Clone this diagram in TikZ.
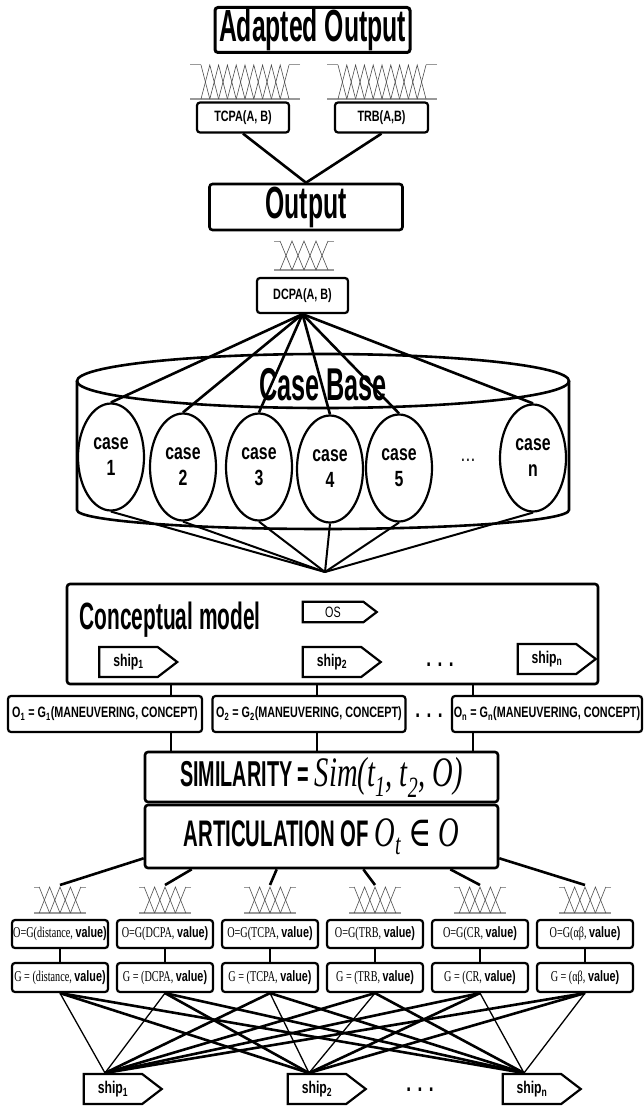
\documentclass[tikz,border=0pt]{standalone}
\usepackage{fontspec}
\setmainfont{Liberation Sans}
\newfontfamily\narrowsans[FakeStretch=0.55]{Liberation Sans}
\newfontfamily\labelsans[FakeStretch=0.72]{Liberation Sans}
\newfontfamily\narrowserif[FakeStretch=0.68]{Liberation Serif}
\newfontfamily\elemfont[FakeStretch=0.75]{DejaVu Serif}
\usetikzlibrary{shapes.geometric, shapes.symbols}

\colorlet{FuzzyLine}{black!70}
\colorlet{FuzzyBase}{black!40}

\tikzset{
  Box/.style = {draw, line width=2.6pt, rounded corners=3pt, inner sep=0pt, align=center},
  SmallBox/.style = {Box, line width=2.2pt, font=\labelsans\bfseries\fontsize{15}{17}\selectfont},
  Title/.style = {font=\narrowsans\bfseries\fontsize{45}{50}\selectfont},
  Case/.style = {draw, ellipse, line width=2.2pt, minimum width=66pt, minimum height=107pt,
    inner sep=0pt, align=center, font=\labelsans\bfseries\fontsize{22}{26}\selectfont},
  Ship/.style = {draw, signal, signal to=east, signal pointer angle=75, line width=2.2pt,
    minimum width=78pt, inner xsep=4pt, inner ysep=7pt, font=\labelsans\bfseries\fontsize{17}{19}\selectfont},
  Dots/.style = {font=\labelsans\bfseries\fontsize{24}{26}\selectfont},
  Link/.style = {line width=2.6pt},
  ThinLink/.style = {line width=1.3pt},
}

\newcommand\fuzzyset[5]{%
  \begin{scope}[shift={(#1,0)}]
    \pgfmathsetmacro\fzs{0.2*#4}
    \pgfmathsetmacro\fzd{2*(#4-\fzs)/#5}
    \pgfmathtruncatemacro\fzm{#5-1}
    \draw[FuzzyBase, line width=1.6pt] (-#4,#3) -- (#4,#3);
    \draw[FuzzyBase, line width=1pt] (-#4,#2) -- (-#4+\fzs,#2);
    \draw[FuzzyBase, line width=1pt] (#4,#2) -- (#4-\fzs,#2);
    \draw[FuzzyLine, line width=0.6pt] (-#4+\fzs,#2) -- (-#4+\fzs+\fzd,#3);
    \draw[FuzzyLine, line width=0.6pt] (#4-\fzs,#2) -- (#4-\fzs-\fzd,#3);
    \foreach \k in {1,...,\fzm}
      \draw[FuzzyLine, line width=0.6pt] (-#4+\fzs+\k*\fzd-\fzd,#3)
        -- (-#4+\fzs+\k*\fzd,#2) -- (-#4+\fzs+\k*\fzd+\fzd,#3);
  \end{scope}}

\begin{document}
\begin{tikzpicture}[x=1pt, y=-1pt]

\useasboundingbox (0,0) rectangle (643,1110);

\node[Box, Title, line width=3pt, minimum width=195pt, minimum height=45pt] (adapted) at (312.5,30) {Adapted Output};
\fuzzyset{245}{65}{99}{55}{10}
\fuzzyset{382}{65}{99}{55}{10}
\node[SmallBox, minimum width=92pt, minimum height=30pt] (tcpa) at (243,117.5) {TCPA(A, B)};
\node[SmallBox, minimum width=93pt, minimum height=30pt] (trb) at (381.5,117.5) {TRB(A,B)};

\node[Box, Title, minimum width=193pt, minimum height=46pt] (output) at (306,207) {Output};
\draw[Link] (tcpa.south) -- (output.north);
\draw[Link] (trb.south) -- (output.north);

\fuzzyset{304}{241}{270}{30}{4}
\node[SmallBox, minimum width=91pt, minimum height=35pt] (dcpa) at (302.5,295.5) {DCPA(A, B)};

\draw[Link] (323,381) ellipse [x radius=246pt, y radius=27pt];
\draw[Link] (77,381) -- (77,510) arc [start angle=180, end angle=360, x radius=246pt, y radius=19pt] -- (569,381);
\node[Title, font=\narrowsans\bfseries\fontsize{46}{50}\selectfont] (casebase) at (323,385) {Case Base};

\node[Case] (case1) at (111,457) {case\\1};
\node[Case] (case2) at (183,467) {case\\2};
\node[Case] (case3) at (259,467) {case\\3};
\node[Case] (case4) at (330,469) {case\\4};
\node[Case] (case5) at (399,468) {case\\5};
\node[font=\labelsans\fontsize{22}{26}\selectfont] (casedots) at (468,460) {\dots};
\node[Case] (casen) at (533,458) {case\\n};
\coordinate (merge) at (325,572);
\foreach \c in {1,2,3,4,5,n} {
  \draw[Link] (dcpa.south) -- (case\c.north);
  \draw[Link, line width=2pt] (case\c.south) -- (merge);
}

\node[Box, minimum width=531pt, minimum height=100pt] (concept) at (332.5,634) {};
\node[font=\narrowsans\bfseries\fontsize{38}{42}\selectfont] (concepttext) at (170,620) {Conceptual model};
\node[Ship, font=\labelsans\fontsize{15}{17}\selectfont, inner ysep=5pt, minimum width=74pt] (os) at (333,612) {OS};
\node[Ship] (cship1) at (128.5,662) {ship\textsubscript{1}};
\node[Ship] (cship2) at (332,662) {ship\textsubscript{2}};
\node[Dots] (cdots) at (440,665) {. . .};
\node[Ship] (cshipn) at (547,659) {ship\textsubscript{n}};

\node[SmallBox, minimum width=194pt, minimum height=36pt] (o1) at (105,714) {O\textsubscript{1} = G\textsubscript{1}(MANEUVERING, CONCEPT)};
\node[SmallBox, minimum width=193pt, minimum height=36pt] (o2) at (309,714) {O\textsubscript{2} = G\textsubscript{2}(MANEUVERING, CONCEPT)};
\node[Dots] (odots) at (429,716) {. . .};
\node[SmallBox, minimum width=190pt, minimum height=36pt] (on) at (547,714) {O\textsubscript{n} = G\textsubscript{n}(MANEUVERING, CONCEPT)};

\node[Box, minimum width=353pt, minimum height=50pt, font=\narrowsans\bfseries\fontsize{36}{40}\selectfont] (sim) at (321.5,777)
  {SIMILARITY = {\narrowserif\mdseries\itshape\fontsize{42}{44}\selectfont Sim(t\textsubscript{1}, t\textsubscript{2}, O)}};
\node[Box, minimum width=353pt, minimum height=63pt, font=\narrowsans\bfseries\fontsize{37}{40}\selectfont] (arti) at (321.5,836.5)
  {ARTICULATION OF {\narrowserif\mdseries\itshape\fontsize{42}{44}\selectfont O\textsubscript{t} {\elemfont\upshape ∈} O}};

\draw[Link] ([xshift=66pt]o1.north) -- ([xshift=66pt]o1.north |- concept.south);
\draw[Link] ([xshift=8pt]o2.north) -- ([xshift=8pt]o2.north |- concept.south);
\draw[Link] ([xshift=-74pt]on.north) -- ([xshift=-74pt]on.north |- concept.south);
\draw[Link] ([xshift=66pt]o1.south) -- ([xshift=66pt]o1.south |- sim.north);
\draw[Link] ([xshift=8pt]o2.south) -- ([xshift=8pt]o2.south |- sim.north);
\draw[Link] ([xshift=-74pt]on.south) -- ([xshift=-74pt]on.south |- sim.north);

\foreach \name [count=\i from 0] in {distance, DCPA, TCPA, TRB, CR, αβ} {
  \fuzzyset{60+105*\i}{887}{913}{26}{4}
  \coordinate (fz\i) at ({60+105*\i},885);
  \node[SmallBox, minimum width=96pt, minimum height=28pt] (og\i) at ({60+105*\i},934)
    {{\narrowserif\mdseries O=G(\name, }value)};
  \node[SmallBox, minimum width=96pt, minimum height=29pt] (g\i) at ({60+105*\i},977.5)
    {{\narrowserif\mdseries G = (\name, }value)};
  \draw[Link] (og\i.south) -- (g\i.north);
}
\draw[Link] ([yshift=11pt]arti.south west) -- (fz0);
\draw[Link] ([xshift=48pt]arti.south west) -- (fz1);
\draw[Link] ([xshift=133pt]arti.south west) -- (fz2);
\draw[Link] ([xshift=-136pt]arti.south east) -- (fz3);
\draw[Link] ([xshift=-49pt]arti.south east) -- (fz4);
\draw[Link] ([yshift=11pt]arti.south east) -- (fz5);

\node[Ship] (bship1) at (113,1089) {ship\textsubscript{1}};
\node[Ship] (bship2) at (317,1089) {ship\textsubscript{2}};
\node[Dots] (bdots) at (420,1090) {. . .};
\node[Ship] (bshipn) at (532,1089) {ship\textsubscript{n}};
\foreach \i/\a/\b in {0/2/n, 1/2/n, 2/1/n, 3/1/n, 4/1/2, 5/1/2} {
  \draw[Link] (g\i.south) -- ([xshift=-8pt]bship\a.north);
  \draw[Link] (g\i.south) -- ([xshift=-8pt]bship\b.north);
}
\foreach \i/\c in {0/1, 1/1, 2/2, 3/2, 4/n, 5/n}
  \draw[ThinLink] (g\i.south) -- ([xshift=-8pt]bship\c.north);

\end{tikzpicture}
\end{document}
